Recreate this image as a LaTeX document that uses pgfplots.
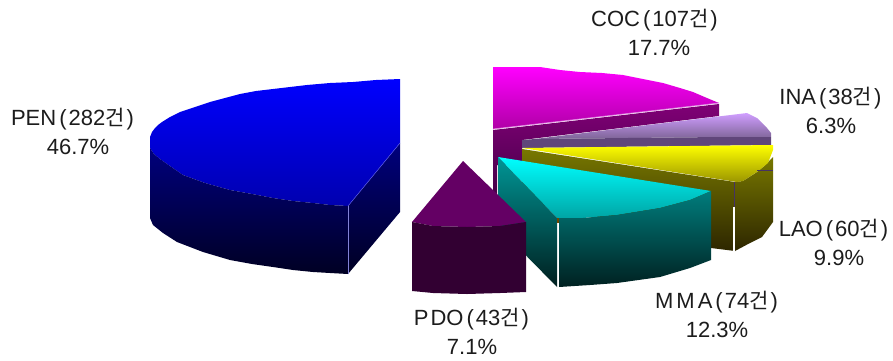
\documentclass[border=0pt]{standalone}
\usepackage{fontspec}
\usepackage{pgfplots}
\pgfplotsset{compat=1.18}
\setmainfont{Liberation Sans}
\newfontfamily\cjk{Noto Sans CJK KR}
\newcommand{\geon}{{\cjk\fontsize{21}{25}\selectfont 건}}
\newcommand{\lp}{\kern3pt(\kern2pt}
\newcommand{\rp}{\kern2pt)\kern1pt}
\definecolor{ink}{RGB}{28,28,28}
% slice colours: top of gradient (a), bottom of gradient (b)
\definecolor{cocTa}{RGB}{255,0,255}\definecolor{cocTb}{RGB}{176,0,166}
\definecolor{cocSa}{RGB}{128,0,118}\definecolor{cocSb}{RGB}{70,0,72}
\definecolor{cocE}{RGB}{225,130,225}
\definecolor{inaTa}{RGB}{208,158,255}\definecolor{inaTb}{RGB}{125,100,150}
\definecolor{inaS}{RGB}{96,70,122}
\definecolor{laoTa}{RGB}{255,255,0}\definecolor{laoTb}{RGB}{155,150,0}
\definecolor{laoSa}{RGB}{120,120,0}\definecolor{laoSb}{RGB}{45,38,0}
\definecolor{laoE}{RGB}{70,50,100}
\definecolor{mmaTa}{RGB}{0,255,255}\definecolor{mmaTb}{RGB}{0,165,165}
\definecolor{mmaLa}{RGB}{0,150,150}\definecolor{mmaLb}{RGB}{0,30,30}
\definecolor{mmaFa}{RGB}{0,125,125}\definecolor{mmaFb}{RGB}{0,32,32}
\definecolor{mmaE}{RGB}{110,70,0}
\definecolor{pdoT}{RGB}{100,0,100}\definecolor{pdoS}{RGB}{50,0,50}
\definecolor{penTa}{RGB}{0,0,255}\definecolor{penTb}{RGB}{0,0,175}
\definecolor{penSa}{RGB}{0,0,125}\definecolor{penSb}{RGB}{0,0,35}
\definecolor{penE}{RGB}{130,130,215}\definecolor{penF}{RGB}{90,90,235}
\pgfplotsset{
  face/.style 2 args={draw=none, no markers, forget plot, sharp plot, top color=#1, bottom color=#2},
  flat/.style={draw=none, no markers, forget plot, sharp plot, fill=#1},
  edge/.style={no markers, forget plot, sharp plot, color=#1, line width=0.7pt},
}
% two-line slice label: x of first line, x of second line, y of first line, texts
\newcommand{\lbl}[5]{\node[text=ink, font=\fontsize{22}{26}\selectfont, inner sep=0pt, anchor=center] at (axis cs:#1,#3) {#4};
  \node[text=ink, font=\fontsize{22}{26}\selectfont, inner sep=0pt, anchor=center] at (axis cs:#2,#3+28) {#5};}
\begin{document}
\begin{tikzpicture}
\begin{axis}[x=1pt, y=1pt, y dir=reverse, xmin=0, xmax=893, ymin=0, ymax=360,
  hide axis, enlargelimits=false, clip=false]

% full canvas extent
\path (axis cs:0,0) -- (axis cs:893,360);

% COC slice
\addplot[face={cocTa}{cocTb}] coordinates {(493,67)(540,67)(560,70)(580,72)(602,73)(623,75)(643,79)(663,83)(680,88)(693,92)(707,98)(719,103)(493,129)} -- cycle;
\addplot[face={cocSa}{cocSb}] coordinates {(493,130)(719,104)(719,116)(522,140)(522,165)(497,165)(497,194)(493,194)} -- cycle;
\addplot[edge=cocE] coordinates {(493,129)(719,103)};

% INA slice
\addplot[face={inaTa}{inaTb}] coordinates {(535,139)(640,126)(747,113)(757,118)(767,128)(771,133)(771,137)(720,137)} -- cycle;
\addplot[flat=inaS] coordinates {(522,140)(535,139)(720,137)(771,137)(771,145)(522,148)} -- cycle;

% LAO slice
\addplot[face={laoSa}{laoSb}] coordinates {(522,149)(735,182)(735,251)(711,248)(522,200)} -- cycle;
\addplot[face={laoSa}{laoSb}] coordinates {(735,182)(743,181)(757,172)(763,167)(773,157)(773,222)(762,237)(750,243)(735,251)} -- cycle;
\addplot[face={laoTa}{laoTb}] coordinates {(522,148)(773,145)(773,150)(768,163)(757,172)(743,181)(737,182)} -- cycle;
\addplot[edge=laoE] coordinates {(757,170)(773,170)};
\addplot[edge=laoE] coordinates {(734,182)(734,207)};
\addplot[edge=white, line width=1.2pt] coordinates {(734,207)(734,251)};

% MMA slice
\addplot[face={mmaTa}{mmaTb}] coordinates {(498,157)(711,191)(690,200)(660,208)(617,215)(583,218)(557,218)} -- cycle;
\addplot[face={mmaLa}{mmaLb}] coordinates {(498,157)(557,218)(557,287)(498,227)} -- cycle;
\addplot[face={mmaFa}{mmaFb}] coordinates {(559,218)(583,218)(617,215)(660,208)(690,200)(711,191)(711,260)(690,268)(660,277)(617,283)(590,285)(559,287)} -- cycle;
\addplot[edge=mmaE, line width=1.6pt] coordinates {(558,218)(558,223)};
\addplot[edge=white, line width=1pt, dash pattern=on 2pt off 0.6pt] coordinates {(558,223)(558,288)};

% PDO slice
\addplot[flat=pdoT] coordinates {(463,161)(526,222)(500,226)(467,227)(433,226)(412,222)} -- cycle;
\addplot[flat=pdoS] coordinates {(412,222)(433,226)(467,227)(500,226)(526,222)(526,292)(500,293)(467,294)(433,293)(412,291)} -- cycle;

% PEN slice
\addplot[face={penTa}{penTb}] coordinates {(400,79)(376,80)(353,82)(330,83)(307,85)(290,87)(273,89)(256,91)(240,94)(225,98)(210,102)(195,107)(180,112)(170,117)(162,122)(158,125)(155,128)(152,132)(150,137)(150,148)(154,154)(160,159)(170,166)(183,175)(205,183)(230,190)(252,194)(273,198)(293,201)(313,203)(330,205)(348,206)(400,143)} -- cycle;
\addplot[face={penSa}{penSb}] coordinates {(150,148)(154,154)(160,159)(170,166)(183,175)(205,183)(230,190)(252,194)(273,198)(293,201)(313,203)(330,205)(348,206)(348,274)(330,273)(313,272)(293,270)(273,267)(252,264)(230,260)(203,252)(177,242)(163,233)(153,225)(150,218)} -- cycle;
\addplot[face={penSa}{penSb}] coordinates {(348,206)(400,143)(400,212)(348,274)} -- cycle;
\addplot[edge=penE, line width=0.5pt] coordinates {(348,206)(348,274)};
\addplot[edge=penF, line width=0.5pt] coordinates {(348,206)(400,143)};

% Slice labels
\lbl{655}{659}{20}{COC\lp107\geon\rp}{17.7\%}
\lbl{831}{831}{98}{INA\lp38\geon\rp}{6.3\%}
\lbl{834}{839}{230}{LAO\lp60\geon\rp}{9.9\%}
\lbl{717}{717}{302}{M\kern3pt M\kern3pt A\lp74\geon\rp}{12.3\%}
\lbl{472}{472}{319}{P\kern2pt DO\lp43\geon\rp}{7.1\%}
\lbl{73}{78}{119}{PEN\lp282\geon\rp}{46.7\%}
\end{axis}
\end{tikzpicture}
\end{document}
